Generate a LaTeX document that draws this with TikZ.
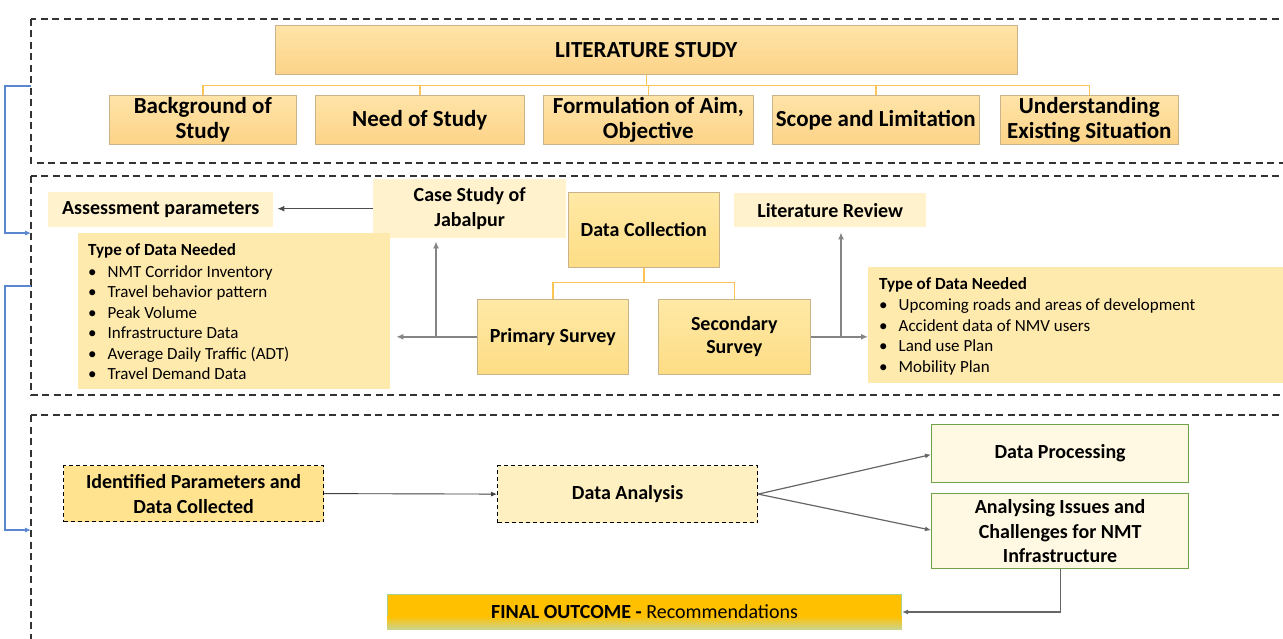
\documentclass[tikz,border=0pt]{standalone}
\usepackage{fontspec}
\setmainfont{Carlito}
\usetikzlibrary{arrows.meta}
\definecolor{lsTop}{HTML}{FFE4A8}
\definecolor{lsBot}{HTML}{FCD388}
\definecolor{boxEdge}{HTML}{C9B38A}
\definecolor{orLine}{HTML}{FBC456}
\definecolor{paleY}{HTML}{FFF2CC}
\definecolor{typeY}{HTML}{FFEAAE}
\definecolor{dcTop}{HTML}{FFE9A6}
\definecolor{dcBot}{HTML}{FDDD85}
\definecolor{identY}{HTML}{FFE38F}
\definecolor{daY}{HTML}{FFF0C2}
\definecolor{procY}{HTML}{FFF8E2}
\definecolor{grEdge}{HTML}{6FA34A}
\definecolor{foOr}{HTML}{FFC000}
\definecolor{foGr}{HTML}{C9D590}
\definecolor{foEdge}{HTML}{A9D18E}
\definecolor{blueLn}{HTML}{5B86D0}
\definecolor{grayLn}{HTML}{858585}
\begin{document}
\begin{tikzpicture}[x=1pt,y=-1pt,
  panel/.style={draw=black!80, line width=1.6pt, dash pattern=on 7pt off 4.5pt},
  ls/.style={draw=boxEdge, line width=0.6pt, top color=lsTop, bottom color=lsBot, inner sep=0pt, align=center, anchor=north west, font=\fontsize{23}{24.5}\selectfont\bfseries},
  pale/.style={fill=paleY, inner sep=0pt, align=center, anchor=north west, font=\fontsize{20}{25}\selectfont\bfseries},
  typebox/.style={fill=typeY, inner sep=0pt, anchor=north west},
  survey/.style={draw=boxEdge, line width=0.6pt, top color=dcTop, bottom color=dcBot, inner sep=0pt, align=center, anchor=north west, font=\fontsize{20}{22.5}\selectfont\bfseries},
  dbox/.style={draw=black, line width=1.2pt, dash pattern=on 4pt off 3pt, inner sep=0pt, align=center, anchor=north west, font=\fontsize{20}{25}\selectfont\bfseries},
  gbox/.style={draw=grEdge, line width=1.2pt, fill=procY, inner sep=0pt, align=center, anchor=north west, font=\fontsize{20}{24.5}\selectfont\bfseries},
  orline/.style={draw=orLine, line width=1.6pt},
  garrow/.style={draw=grayLn, line width=1.8pt, -{Latex[length=7pt,width=6pt]}},
  karrow/.style={draw=black!75, line width=0.9pt, -{Latex[length=6pt,width=5pt]}},
  barrow/.style={draw=blueLn, line width=1.1pt, -{Latex[length=6pt,width=5pt]}},
  itemtext/.style={anchor=base west, inner sep=0pt, align=left, font=\fontsize{17}{20.6}\selectfont}
]
\useasboundingbox (0,0) rectangle (1283,639);
\fill[white] (0,0) rectangle (1283,639);
\clip (0,0) rectangle (1283,639);

% panels
\draw[panel] (31,19) rectangle (1310,163);
\draw[panel] (31,176) rectangle (1310,395);
\draw[panel] (31,415) rectangle (1310,680);

% ---------- panel 1 ----------
\node[ls, minimum width=742pt, minimum height=49pt] (lit) at (275,25) {LITERATURE STUDY};
\node[ls, minimum width=187pt, minimum height=49pt] (bg) at (109,95) {Background of\\Study};
\node[ls, minimum width=209pt, minimum height=49pt] (need) at (315,95) {Need of Study};
\node[ls, minimum width=210pt, minimum height=49pt] (form) at (543,95) {Formulation of Aim,\\Objective};
\node[ls, minimum width=207pt, minimum height=49pt] (scope) at (772,95) {Scope and Limitation};
\node[ls, minimum width=178pt, minimum height=49pt] (und) at (1000,95) {Understanding\\Existing Situation};

\draw[orline] (lit.south) -- ++(0,11) coordinate (j1);
\foreach \n in {bg,need,form,scope,und} \draw[orline] (j1) -| (\n.north);

% ---------- panel 2 ----------
\node[pale, minimum width=225pt, minimum height=35pt] (assess) at (48,192) {Assessment parameters};
\node[pale, minimum width=193pt, minimum height=59pt] (case) at (373,179) {Case Study of\\Jabalpur};
\node[survey, minimum width=151pt, minimum height=75pt] (dc) at (568,192) {Data Collection};
\node[pale, minimum width=192pt, minimum height=34pt] (litrev) at (734,193) {Literature Review};
\node[typebox, minimum width=312pt, minimum height=156pt] (typeL) at (78,233) {};
\node[typebox, minimum width=430pt, minimum height=116pt] (typeR) at (868,267) {};
\node[survey, minimum width=151pt, minimum height=75pt] (prim) at (477,299) {Primary Survey};
\node[survey, minimum width=152pt, minimum height=75pt] (sec) at (658,299) {Secondary\\Survey};

\node[itemtext] (tlT) at (88,255) {\textbf{Type of Data Needed}};
\node[itemtext] (tlI) at (88,277) {%
\begin{tabular}[t]{@{}l@{\hspace{11pt}}l@{}}
\textbullet & NMT Corridor Inventory\\
\textbullet & Travel behavior pattern\\
\textbullet & Peak Volume\\
\textbullet & Infrastructure Data\\
\textbullet & Average Daily Traffic (ADT)\\
\textbullet & Travel Demand Data
\end{tabular}};
\node[itemtext] (trT) at (879,289.5) {\textbf{Type of Data Needed}};
\node[itemtext] (trI) at (879,310.5) {%
\begin{tabular}[t]{@{}l@{\hspace{11pt}}l@{}}
\textbullet & Upcoming roads and areas of development\\
\textbullet & Accident data of NMV users\\
\textbullet & Land use Plan\\
\textbullet & Mobility Plan
\end{tabular}};

\draw[orline] (dc.south) -- ++(0,15) coordinate (j2);
\draw[orline] (j2) -| (prim.north);
\draw[orline] (j2) -| (sec.north);

\draw[garrow, line width=1.2pt, draw=black!70, shorten >=4pt] (case.west) -- (case.west -| assess.east);
\draw[garrow, shorten >=6pt] (prim.west) -- (prim.west -| typeL.east);
\coordinate (p1) at (436,336.5);
\draw[garrow, shorten >=3pt] (p1) -- (p1 |- case.south);
\draw[garrow] (sec.east) -- (sec.east -| typeR.west);
\coordinate (p2) at (841,336.5);
\draw[garrow, shorten >=5pt] (p2) -- (p2 |- litrev.south);

% ---------- panel 3 ----------
\node[dbox, fill=identY, minimum width=260pt, minimum height=56pt] (ident) at (63,465) {Identified Parameters and\\Data Collected};
\node[dbox, fill=daY, minimum width=260pt, minimum height=57pt] (da) at (497,465) {Data Analysis};
\node[gbox, minimum width=257pt, minimum height=58pt] (dp) at (931,424) {Data Processing};
\node[gbox, minimum width=257pt, minimum height=75pt] (ai) at (931,493) {Analysing Issues and\\Challenges for NMT\\Infrastructure};

\node[draw=foEdge, line width=1pt, fill=foOr, minimum width=514pt, minimum height=35pt, anchor=north west, inner sep=0pt] (fo) at (387,594) {};
\shade[top color=foOr, bottom color=foGr] ([yshift=-22pt]fo.north west) rectangle ([xshift=-0.5pt,yshift=0.5pt]fo.south east);
\node[font=\fontsize{20}{22}\selectfont, inner sep=0pt] (foT) at (fo.center) {\textbf{FINAL OUTCOME -} Recommendations};

\draw[karrow] (ident.east) -- (da.west);
\draw[karrow, draw=black!60, line width=1.2pt] (da.east) -- ([yshift=-1pt]dp.west);
\draw[karrow, draw=black!60, line width=1.2pt] (da.east) -- ([yshift=1pt]ai.west);
\draw[karrow, draw=black!60, line width=1.2pt] (ai.south) |- (fo.east);

% blue feedback connectors
\coordinate (b1) at (31,86);
\coordinate (b2) at (31,233);
\coordinate (b3) at (31,286);
\coordinate (b4) at (31,530);
\draw[barrow] (b1) -- (5,86) -- (5,233) -- (b2);
\draw[barrow] (b3) -- (5,286) -- (5,530) -- (b4);
\end{tikzpicture}
\end{document}
